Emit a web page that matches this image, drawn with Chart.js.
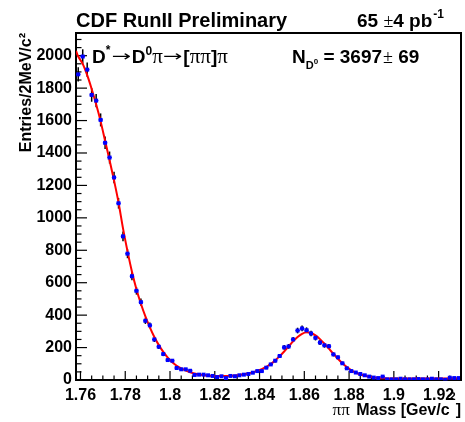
<!DOCTYPE html>
<html>
<head>
<meta charset="utf-8">
<script src="https://cdn.jsdelivr.net/npm/chart.js@4.4.0/dist/chart.umd.min.js"></script>
<style>
body{margin:0;background:#fff;}
</style>
</head>
<body>
<canvas id="massChart" width="465" height="422"></canvas>
<script>
// pi pi mass histogram, 2 MeV bins starting at 1.758
const binLow=1.758;
const binWidth=0.002;
const entries=[1885,1995,1914,1758,1723,1604,1463,1372,1249,1090,
	886,779,640,550,480,365,337,250,205,160,
	123,119,74,66,66,57,31,33,33,29,
	25,18,23,12,25,23,29,33,37,45,
	55,55,76,96,119,148,201,207,250,305,
	318,307,287,260,231,214,208,158,140,103,
	72,55,46,37,29,21,15,12,21,4,
	4,4,8,4,4,4,6,4,4,8,
	4,4,1,14,12,12];

// fit curve: left edge, each bin centre, right edge
const fitEdgeMass=[1.758,1.93];
const fitValues=[2030,
	1995,1950,1880,1795,1700,1595,1475,1355,1230,1095,
	935,795,668,560,470,392,325,265,215,173,
	138,110,88,71,58,48,40,34,30,27,
	25,24,24,25,26,28,31,35,40,47,
	56,67,81,99,121,147,176,207,238,265,
	285,294,290,275,252,224,193,161,131,103,
	80,60,45,34,26,20,16,13,11,10,
	9,9,9,9,9,9,9,9,9,9,
	9,9,9,9,9,9,
	9];

const xTicks=[1.76,1.78,1.8,1.82,1.84,1.86,1.88,1.9,1.92];
const xTickLabels=['1.76','1.78','1.8','1.82','1.84','1.86','1.88','1.9','1.92'];
const yTicks=[0,200,400,600,800,1000,1200,1400,1600,1800,2000];
const xRange=[1.758,1.93];
const yRange=[0,2140];

const SANS='"Liberation Sans", Arial, sans-serif';
const SERIF='"Liberation Serif", "DejaVu Serif", serif';
const ARROW='"DejaVu Sans", sans-serif';

let binCenters=[];
entries.forEach((n,i)=>{
	binCenters.push(binLow+binWidth*(i+0.5));
});
let histPoints=entries.map((n,i)=>({x:binCenters[i],y:n}));
let fitMass=[fitEdgeMass[0]].concat(binCenters,[fitEdgeMass[1]]);
let fitPoints=fitValues.map((v,i)=>({x:fitMass[i],y:v}));

//draws pieces of text one after the other (for super/subscripts)
function drawRuns(ctx,x,y,runs){
	let cx=x;
	runs.forEach(r=>{
		ctx.save();
		ctx.font=r.font;
		let sx=r.sx||1;
		ctx.translate(cx+(r.dx||0),y+(r.dy||0));
		ctx.scale(sx,1);
		ctx.fillText(r.text,0,0);
		let w=ctx.measureText(r.text).width*sx;
		ctx.restore();
		cx+=w+(r.dx||0)+(r.gap||0);
	});
	return cx;
}
function runsWidth(ctx,runs){
	let w=0;
	runs.forEach(r=>{
		ctx.save();ctx.font=r.font;
		w+=ctx.measureText(r.text).width*(r.sx||1)+(r.dx||0)+(r.gap||0);
		ctx.restore();
	});
	return w;
}

//frame, inward ticks, error bars
const rootStyle={
	id:'rootStyle',
	beforeDatasetsDraw(chart){
		const ctx=chart.ctx;
		const xs=chart.scales.x, ys=chart.scales.y;
		const a=chart.chartArea;
		ctx.save();
		ctx.strokeStyle='#000';
		//x ticks
		ctx.lineWidth=1.2;
		for(let k=0;k<=40;k++){
			let v=1.76+k*0.005;
			if(v>xRange[1]) break;
			let px=xs.getPixelForValue(v);
			let len=(k%4==0)?9:4.5;
			ctx.beginPath();ctx.moveTo(px,a.bottom);ctx.lineTo(px,a.bottom-len);ctx.stroke();
		}
		//y ticks
		for(let k=0;k*50<=yRange[1];k++){
			let py=ys.getPixelForValue(k*50);
			let len=(k%4==0)?11:5.5;
			ctx.beginPath();ctx.moveTo(a.left,py);ctx.lineTo(a.left+len,py);ctx.stroke();
		}
		//error bars
		entries.forEach((n,i)=>{
			let px=xs.getPixelForValue(binCenters[i]);
			let err=Math.sqrt(n);
			ctx.strokeStyle='#000';
			ctx.lineWidth=1.5;
			ctx.beginPath();
			ctx.moveTo(px,ys.getPixelForValue(n+err));
			ctx.lineTo(px,ys.getPixelForValue(Math.max(n-err,0)));
			ctx.stroke();
			ctx.strokeStyle='#0000ff';
			ctx.lineWidth=1.2;
			ctx.beginPath();
			let py=ys.getPixelForValue(n);
			ctx.moveTo(xs.getPixelForValue(binCenters[i]-binWidth/2),py);
			ctx.lineTo(xs.getPixelForValue(binCenters[i]+binWidth/2),py);
			ctx.stroke();
		});
		ctx.restore();
	},
	afterDraw(chart){
		const ctx=chart.ctx;
		const a=chart.chartArea;
		ctx.save();
		ctx.strokeStyle='#000';
		ctx.lineWidth=2;
		ctx.beginPath();
		ctx.moveTo(a.left,a.top);ctx.lineTo(a.right,a.top);ctx.lineTo(a.right,a.bottom);
		ctx.stroke();
		ctx.fillStyle='#000';
		ctx.textBaseline='alphabetic';
		ctx.textAlign='left';
		const B=s=>'bold '+s+'px '+SANS;
		const R=s=>s+'px '+SERIF;
		const A=s=>s+'px '+ARROW;
		//title line
		drawRuns(ctx,76,27,[{text:'CDF RunII Preliminary',font:B(20)}]);
		let lumi=[{text:'65 ',font:B(19)},{text:'\u00b1',font:R(18)},{text:'4 pb',font:B(19),gap:1},
			{text:'-1',font:B(12),dy:-9}];
		drawRuns(ctx,444-runsWidth(ctx,lumi),27,lumi);
		//decay chain
		drawRuns(ctx,92,63,[
			{text:'D',font:B(19)},{text:'*',font:B(12),dy:-9,gap:1},
			{text:'\u2192',font:A(15),sx:1.55,dy:-2,gap:1},
			{text:'D',font:B(19)},{text:'0',font:B(12),dy:-8},
			{text:'\u03c0',font:R(21)},
			{text:'\u2192',font:A(15),sx:1.55,dy:-2,gap:1},
			{text:'[',font:B(19)},{text:'\u03c0\u03c0',font:R(21)},{text:']',font:B(19)},
			{text:'\u03c0',font:R(21)}
		]);
		//signal yield
		drawRuns(ctx,292,63,[
			{text:'N',font:B(19)},{text:'D',font:B(11),dy:6},{text:'0',font:B(8),dy:1},
			{text:' = 3697',font:B(19),gap:1},{text:'\u00b1',font:R(18)},{text:' 69',font:B(19)}
		]);
		//x title
		let xt=[{text:'\u03c0\u03c0',font:R(17),gap:2},{text:' Mass [Gev/c',font:B(16)},
			{text:'2',font:B(11),dy:-15},{text:']',font:B(16)}];
		drawRuns(ctx,461-runsWidth(ctx,xt),415,xt);
		ctx.restore();
	}
};

const ctx=document.getElementById('massChart').getContext('2d');
const massChart=new Chart(ctx,{
	type:'scatter',
	data:{
		datasets:[{
			label:'data',
			data:histPoints,
			pointStyle:'rect',
			pointRadius:2.8,
			pointBackgroundColor:'#0000ff',
			pointBorderWidth:0,
			showLine:false,
			order:1
		},{
			label:'fit',
			data:fitPoints,
			showLine:true,
			borderColor:'#ff0000',
			borderWidth:2,
			pointRadius:0,
			cubicInterpolationMode:'monotone',
			fill:false,
			order:2
		}]
	},
	options:{
		responsive:false,
		animation:false,
		layout:{padding:{top:33,right:2,left:0,bottom:0}},
		plugins:{legend:{display:false},tooltip:{enabled:false}},
		scales:{
			x:{
				type:'linear',
				min:xRange[0],max:xRange[1],
				afterBuildTicks:s=>{s.ticks=xTicks.map(v=>({value:v}));},
				afterFit:s=>{s.height=42;},
				grid:{display:false,drawTicks:false},
				border:{display:true,color:'#000',width:2},
				ticks:{
					padding:6,
					color:'#000',
					maxRotation:0,
					autoSkip:false,
					font:{family:SANS,size:16,weight:'bold'},
					callback:(v,i)=>xTickLabels[i]
				}
			},
			y:{
				min:yRange[0],max:yRange[1],
				afterBuildTicks:s=>{s.ticks=yTicks.map(v=>({value:v}));},
				afterFit:s=>{s.width=76;},
				grid:{display:false,drawTicks:false},
				border:{display:true,color:'#000',width:2},
				ticks:{
					padding:4,
					color:'#000',
					autoSkip:false,
					font:{family:SANS,size:16,weight:'bold'},
					callback:v=>String(v)
				},
				title:{
					display:true,
					text:'Entries/2MeV/c\u00b2',
					align:'end',
					color:'#000',
					font:{family:SANS,size:16,weight:'bold'},
					padding:{top:17,bottom:0}
				}
			}
		}
	},
	plugins:[rootStyle]
});
</script>
</body>
</html>
